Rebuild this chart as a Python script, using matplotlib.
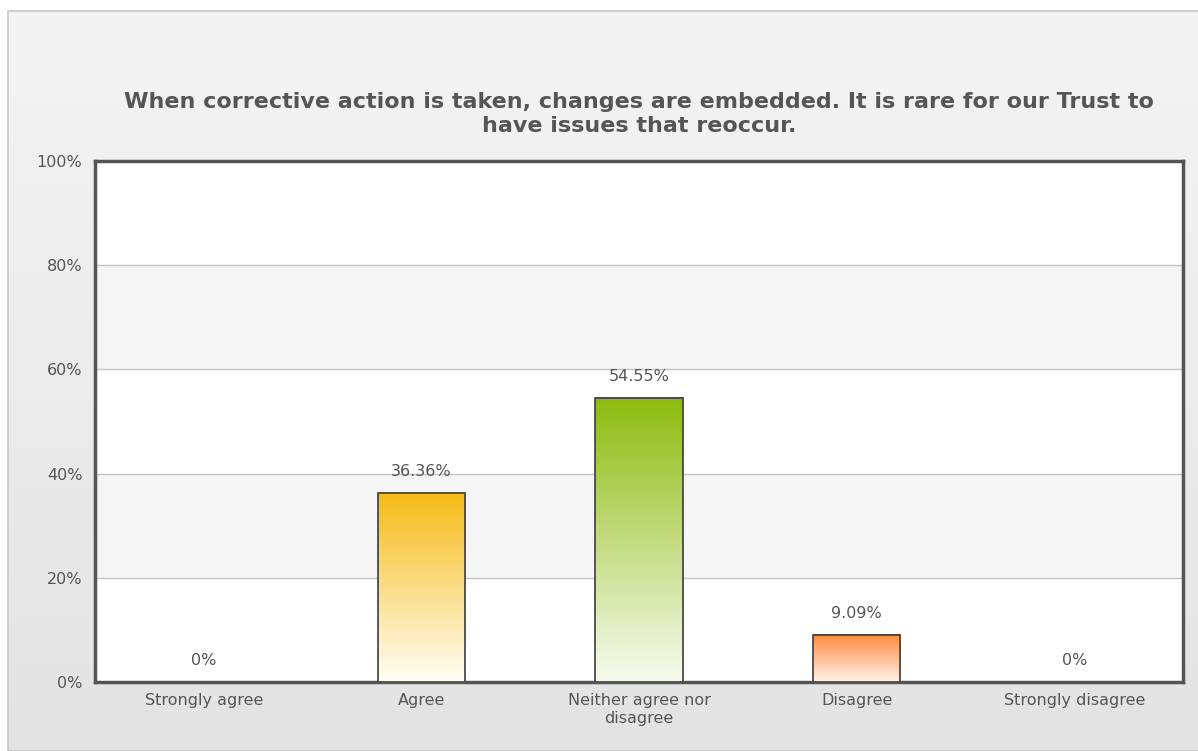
import numpy as np
import matplotlib.pyplot as plt
from matplotlib.colors import LinearSegmentedColormap
from matplotlib.patches import Rectangle

categories = ['Strongly agree', 'Agree', 'Neither agree nor\ndisagree',
              'Disagree', 'Strongly disagree']
values = [0, 36.36, 54.55, 9.09, 0]
labels = ['0%', '36.36%', '54.55%', '9.09%', '0%']
top_colors = ['#f5bb14', '#f5bb14', '#8dbb0f', '#ff8a3d', '#ff8a3d']
bottom_colors = ['#fffef8', '#fffef8', '#f7fbef', '#fff3ea', '#fff3ea']
title = ('When corrective action is taken, changes are embedded. It is rare for our Trust to\n'
         'have issues that reoccur.')

TEXT = '#555555'

fig = plt.figure(figsize=(11.98, 7.51), dpi=100)
fig.patch.set_facecolor('white')

# panel background gradient
bg = fig.add_axes([0, 0, 1, 1], zorder=-5)
bg.set_axis_off()
grad = np.linspace(0, 1, 256).reshape(-1, 1)
bg_cmap = LinearSegmentedColormap.from_list('bg', ['#f4f4f4', '#e3e3e3'])
bg.imshow(grad, cmap=bg_cmap, aspect='auto', extent=[8 / 1198, 1.0, 0, 1 - 11 / 751])
bg.add_patch(Rectangle((8 / 1198, 0), 1.0, 1 - 11 / 751, fill=False,
                       edgecolor='#c8c8c8', linewidth=1.2))
bg.set_xlim(0, 1)
bg.set_ylim(0, 1)

ax = fig.add_axes([95 / 1198, 1 - 682 / 751, 1088 / 1198, 521 / 751])
ax.set_facecolor('white')

# alternating bands
for lo in range(20, 100, 40):
    ax.axhspan(lo, lo + 20, color='#f5f5f5', zorder=0)
for y in range(20, 100, 20):
    ax.axhline(y, color='#c4c4c4', linewidth=1, zorder=1)

x = np.arange(len(categories))
bars = ax.bar(x, values, width=0.4, facecolor='none', edgecolor='#3c3c3c',
              linewidth=1.2, zorder=4)

for bar, c_top, c_bot, lab in zip(bars, top_colors, bottom_colors, labels):
    x0 = bar.get_x()
    x1 = x0 + bar.get_width()
    h = bar.get_height()
    if h > 0:
        cmap = LinearSegmentedColormap.from_list('g', [c_bot, c_top])
        ax.imshow(grad, cmap=cmap, aspect='auto', origin='lower',
                  extent=[x0, x1, 0, h], zorder=3)
    else:
        bar.set_linewidth(0)
    ax.annotate(lab, (x0 + bar.get_width() / 2, h), xytext=(0, 10),
                textcoords='offset points', ha='center', va='bottom',
                fontsize=11.5, color=TEXT)

ax.set_xlim(-0.5, len(categories) - 0.5)
ax.set_ylim(0, 100)

ax.set_xticks(x)
ax.set_xticklabels(categories, fontsize=11.5, color=TEXT, linespacing=1.25)
ax.set_yticks(range(0, 101, 20))
ax.set_yticklabels(['%d%%' % v for v in range(0, 101, 20)], fontsize=11.5, color=TEXT)
ax.tick_params(length=0)
ax.tick_params(axis='x', pad=8)
ax.tick_params(axis='y', pad=9)

for side in ['left', 'bottom', 'top', 'right']:
    ax.spines[side].set_color('#555555')
    ax.spines[side].set_linewidth(2.5)

fig.text(639 / 1198, 1 - 114 / 751, title, ha='center', va='center',
         fontsize=16, fontweight='bold', color=TEXT, linespacing=1.2)

fig.savefig('out.png', dpi=100)
